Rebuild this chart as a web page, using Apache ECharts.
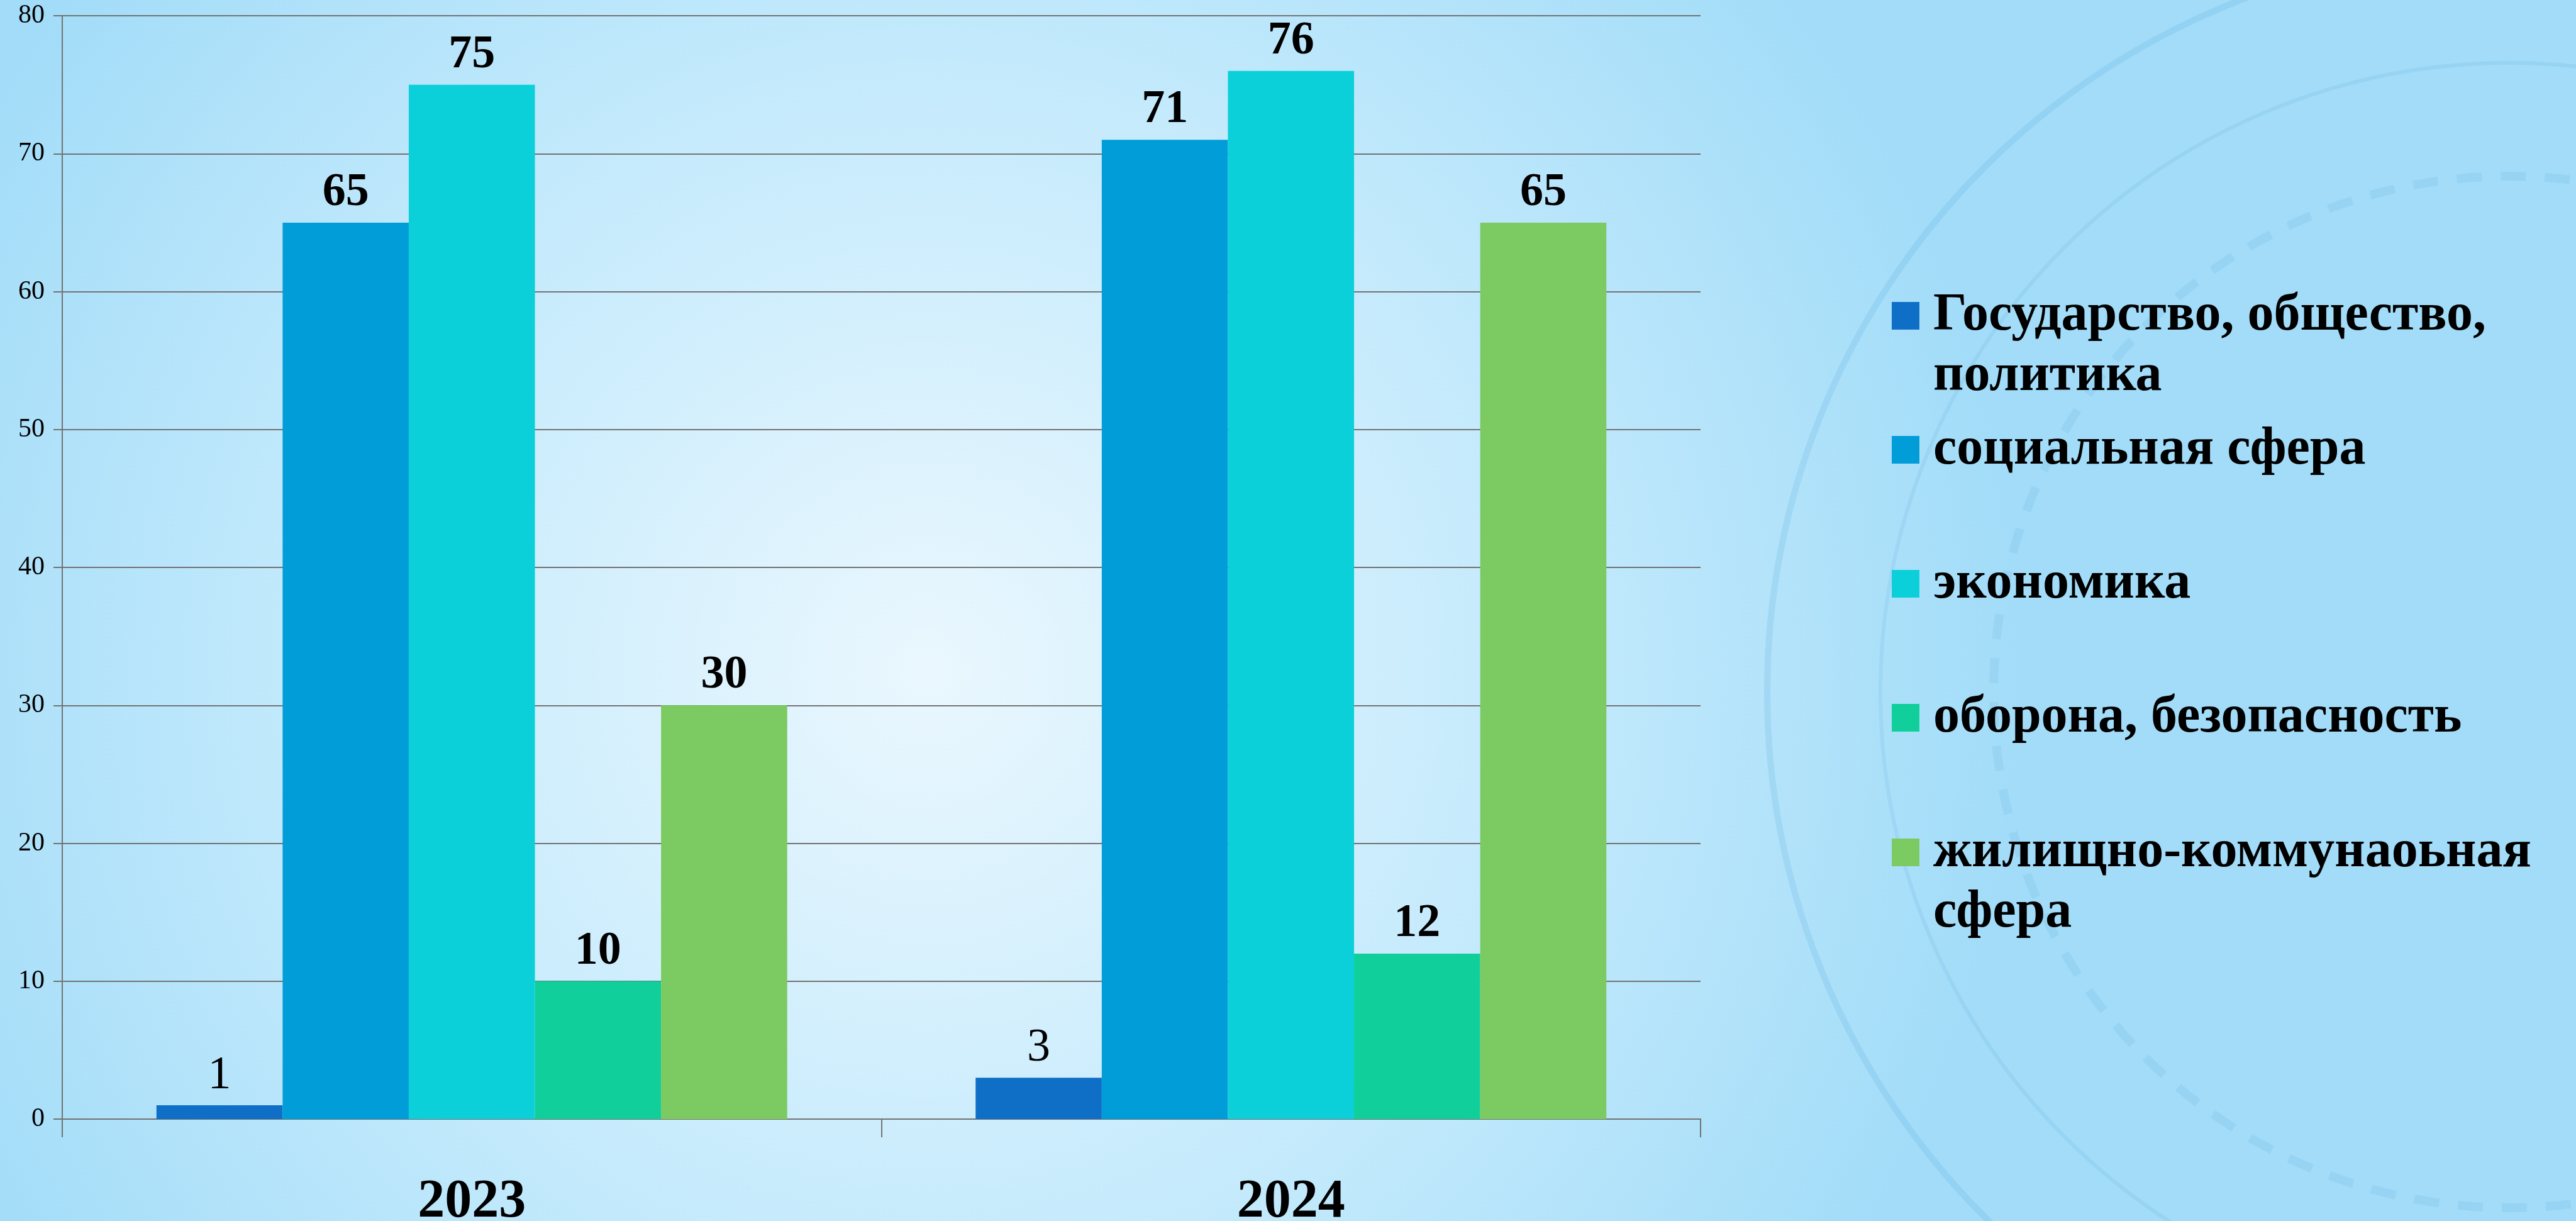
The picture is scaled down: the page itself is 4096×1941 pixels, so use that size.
<!DOCTYPE html>
<html lang="ru">
<head>
  <meta charset="UTF-8">
  <title>Обращения по тематикам 2023–2024</title>
  <script src="https://cdn.jsdelivr.net/npm/echarts@6/dist/echarts.min.js"></script>
  <style>
    html, body {
      margin: 0;
      padding: 0;
    }
    #main {
      width: 4096px;
      height: 1941px;
    }
  </style>
</head>
<body>
  <div id="main"></div>

  <script>
    // данные
    const years = ['2023', '2024'];
    const seriesNames = [
      'Государство, общество,\nполитика',
      'социальная сфера',
      'экономика',
      'оборона, безопасность',
      'жилищно-коммунаоьная\nсфера'
    ];
    const gosudarstvo = [1, 3];
    const socialnaya = [65, 71];
    const ekonomika = [75, 76];
    const oborona = [10, 12];
    const zhkh = [30, 65];
    const yMin = 0, yMax = 80, yStep = 10;

    const colors = ['#0F6FC6', '#009DD9', '#0BD0D9', '#10CF9B', '#7CCA62'];
    const font = '"Liberation Serif", serif';
    const gridColor = '#727272';

    const chart = echarts.init(document.getElementById('main'));

    const values = [gosudarstvo, socialnaya, ekonomika, oborona, zhkh];
    const series = values.map((vals, i) => ({
      name: seriesNames[i],
      type: 'bar',
      data: vals,
      barGap: '0%',
      barCategoryGap: '23%',
      itemStyle: { color: colors[i] },
      label: {
        show: true,
        position: 'top',
        distance: 10,
        color: '#000',
        fontFamily: font,
        fontWeight: i === 0 ? 'normal' : 'bold',
        fontSize: 74
      }
    }));

    // легенда: каждый пункт отдельно, шаг как на слайде
    // у двухстрочных пунктов пустая первая строка, чтобы маркер стоял у первой строки текста
    const lh = 96;
    const legendCenters = [502, 715, 928, 1141, 1355];
    const legends = seriesNames.map((name, i) => {
      const twoLine = name.indexOf('\n') >= 0;
      return {
        data: [name],
        orient: 'vertical',
        left: 3008,
        top: legendCenters[i] - (twoLine ? 1.5 * lh : lh / 2),
        padding: 0,
        itemWidth: 44,
        itemHeight: 44,
        icon: 'rect',
        selectedMode: false,
        formatter: n => (twoLine ? '\n' + n : n),
        textStyle: {
          fontFamily: font,
          fontWeight: 'bold',
          fontSize: 84,
          lineHeight: lh,
          color: '#000',
          padding: [0, 0, 0, 17]
        }
      };
    });

    const option = {
      backgroundColor: {
        type: 'radial',
        x: 0.36, y: 0.55, r: 0.9,
        colorStops: [
          { offset: 0, color: '#eaf7fe' },
          { offset: 0.55, color: '#c4eafc' },
          { offset: 1, color: '#a2dcf8' }
        ]
      },
      color: colors,
      animation: false,
      graphic: [
        { type: 'circle', shape: { cx: 3990, cy: 1100, r: 1180 }, style: { fill: 'none', stroke: 'rgba(60,150,210,0.14)', lineWidth: 10 }, silent: true, z: -1 },
        { type: 'circle', shape: { cx: 3990, cy: 1100, r: 1000 }, style: { fill: 'none', stroke: 'rgba(60,150,210,0.11)', lineWidth: 6 }, silent: true, z: -1 },
        { type: 'circle', shape: { cx: 3990, cy: 1100, r: 820 }, style: { fill: 'none', stroke: 'rgba(60,150,210,0.10)', lineWidth: 14, lineDash: [40, 30] }, silent: true, z: -1 }
      ],
      grid: {
        left: 99,
        right: 1392,
        top: 25,
        bottom: 162,
        containLabel: false,
        outerBoundsMode: 'none'
      },
      legend: legends,
      xAxis: {
        type: 'category',
        data: years,
        axisLine: { lineStyle: { color: gridColor, width: 2 } },
        axisTick: { show: true, length: 29, lineStyle: { color: gridColor, width: 2 } },
        axisLabel: {
          color: '#000',
          fontFamily: font,
          fontWeight: 'bold',
          fontSize: 86,
          margin: 90
        }
      },
      yAxis: {
        type: 'value',
        min: yMin,
        max: yMax,
        interval: yStep,
        axisLine: { show: true, lineStyle: { color: gridColor, width: 2 } },
        axisTick: { show: true, length: 14, lineStyle: { color: gridColor, width: 2 } },
        splitLine: { lineStyle: { color: gridColor, width: 2 } },
        axisLabel: {
          color: '#000',
          fontFamily: font,
          fontSize: 42,
          margin: 28
        }
      },
      series: series
    };

    chart.setOption(option);
  </script>
</body>
</html>
